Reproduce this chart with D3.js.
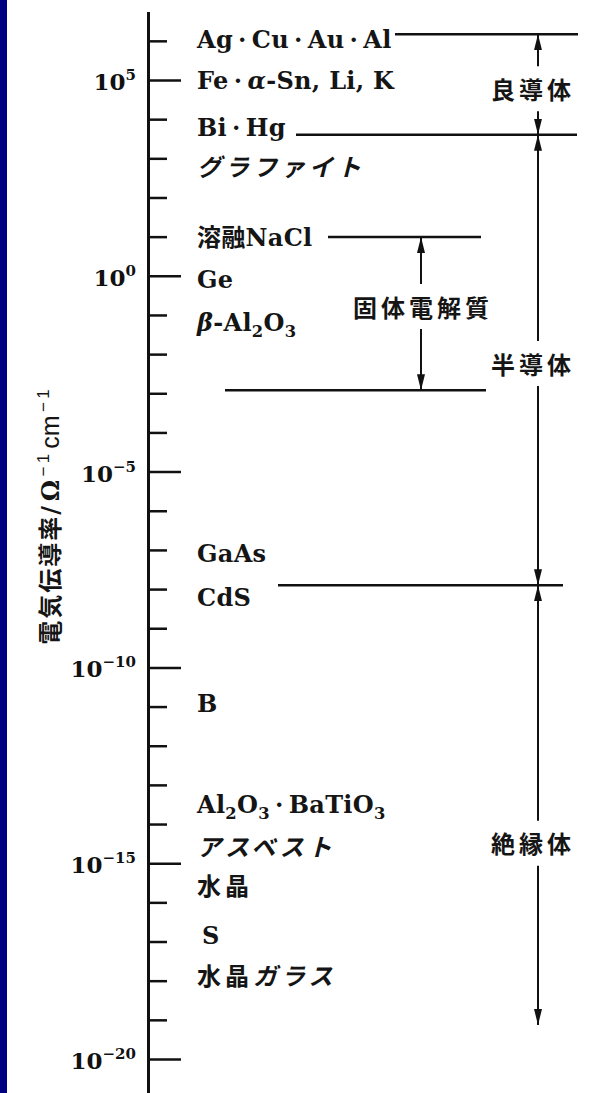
<!DOCTYPE html>
<html>
<head>
<meta charset="utf-8">
<script src="https://cdn.jsdelivr.net/npm/d3@7"></script>
<style>
body { margin: 0; background: #fff; }
svg { display: block; }
</style>
</head>
<body>
<svg id="chart" width="590" height="1093"></svg>
<script>
// materials and log10 of their conductivity (ohm^-1 cm^-1)
// {..} = italic, _n = subscript
var materials = ["Ag·Cu·Au·Al", "Fe·{α}-Sn, Li, K", "Bi·Hg", "{グラファイト}", "溶融NaCl", "Ge",
                 "{β}-Al_2O_3", "GaAs", "CdS", "B", "Al_2O_3·BaTiO_3", "{アスベスト}", "水晶", "S", "水晶{ガラス}"];
var materialLog = [6.05, 5.0, 3.78, 2.78, 0.97, -0.1, -1.18, -7.08, -8.2, -10.93, -13.49, -14.59, -15.6, -16.83, -17.9];

// classes of conductors: range and label position (log10)
var regions = ["良導体", "固体電解質", "半導体", "絶縁体"];
var regionTop = [6.17, 0.99, 3.6, -7.9];
var regionBottom = [3.6, -2.92, -7.9, -19.13];
var regionLabelLog = [4.74, -0.82, -2.28, -14.53];
var regionColumn = ["outer", "inner", "outer", "outer"];

// boundary lines between classes
var boundaryLog = [6.17, 3.6, 0.99, -2.92, -7.9];

// axis ticks
var tickExp = d3.range(6, -21, -1);
var labelExp = [5, 0, -5, -10, -15, -20];
var axisTitle = "電気伝導率";

var svg = d3.select("#chart");
var serif = "'DejaVu Serif', 'Noto Sans CJK JP', serif";
var jp = "'Noto Sans CJK JP', sans-serif";

// blue frame strip on the left
svg.append("rect").attr("x", 0).attr("y", 0).attr("width", 7).attr("height", 1093).attr("fill", "#000080");

var y = d3.scaleLog().domain([1e5, 1e-20]).range([80, 1059]);
function yl(e) { return y(Math.pow(10, e)); }

var axisX = 148;
var yAxisScale = y.copy().domain([Math.pow(10, 6.75), Math.pow(10, -21)]).range([yl(6.75), yl(-21)]);

var gAxis = svg.append("g").attr("transform", "translate(" + axisX + ",0)")
    .call(d3.axisRight(yAxisScale)
          .tickValues(tickExp.map(function(e) { return Math.pow(10, e); }))
          .tickSize(19).tickSizeOuter(0).tickFormat(""));
gAxis.select(".domain").attr("stroke", "#111").attr("stroke-width", 3);
gAxis.selectAll(".tick line").attr("stroke", "#111").attr("stroke-width", 2.5)
    .attr("x2", function(d) { return labelExp.indexOf(Math.round(Math.log10(d))) >= 0 ? 33 : 19; });

// tick labels 10^n
labelExp.forEach(function(e) {
    var t = svg.append("text").attr("x", 136).attr("y", yl(e) + 10)
        .attr("text-anchor", "end").attr("font-family", serif).attr("font-weight", "bold")
        .attr("font-size", 23).attr("fill", "#111");
    t.append("tspan").text("10");
    t.append("tspan").attr("dy", -10).attr("font-size", 15).text(e < 0 ? "\u2212" + (-e) : e);
});

// rich text helper
function rich(t, str) {
    var re = /\{([^}]*)\}|_(\d)|([^{_]+)/g, m, shift = 0;
    while ((m = re.exec(str)) !== null) {
        var target = m[2] ? 6 : 0;
        var sp = t.append("tspan");
        if (target !== shift) { sp.attr("dy", target - shift); shift = target; }
        if (m[1] !== undefined) sp.attr("font-style", "italic").text(m[1]);
        else if (m[2]) sp.attr("font-size", "68%").text(m[2]);
        else sp.text(m[3].replace(/·/g, "\u2009·\u2009"));
    }
}

var latin = /[A-Za-z]/;
var labelX = 197;
svg.append("g").selectAll("text").data(materials).join("text")
    .attr("x", function(d) { return d === "S" ? labelX + 5 : labelX; })
    .attr("y", function(d, i) { return yl(materialLog[i]); })
    .attr("dy", "0.36em")
    .attr("font-family", serif).attr("font-weight", "bold").attr("font-size", 24)
    .attr("letter-spacing", function(d) { return latin.test(d) ? 0.3 : 4; })
    .attr("fill", "#151515")
    .each(function(d) { rich(d3.select(this), d); });

// boundary lines (x extents are layout)
var lineX0 = [395, 296, 328, 225, 278];
var lineX1 = [578, 577, 481, 486, 563];
svg.append("g").selectAll("line").data(boundaryLog).join("line")
    .attr("x1", function(d, i) { return lineX0[i]; })
    .attr("x2", function(d, i) { return lineX1[i]; })
    .attr("y1", function(d) { return yl(d); })
    .attr("y2", function(d) { return yl(d); })
    .attr("stroke", "#111").attr("stroke-width", 2.5);

// arrowheads
svg.append("defs").append("marker").attr("id", "ah")
    .attr("viewBox", "0 -5 16 10").attr("refX", 16).attr("refY", 0)
    .attr("markerWidth", 16).attr("markerHeight", 10)
    .attr("markerUnits", "userSpaceOnUse").attr("orient", "auto-start-reverse")
    .append("path").attr("d", "M0,-4L16,0L0,4Z").attr("fill", "#111");

var colX = { outer: 538, inner: 421 };
var colLabelX = { outer: 531, inner: 421 };
var gReg = svg.append("g");
regions.forEach(function(name, i) {
    var x = colX[regionColumn[i]];
    var ly = yl(regionLabelLog[i]);
    gReg.append("line").attr("x1", x).attr("x2", x)
        .attr("y1", yl(regionTop[i])).attr("y2", ly - 24)
        .attr("stroke", "#111").attr("stroke-width", 2).attr("marker-start", "url(#ah)");
    gReg.append("line").attr("x1", x).attr("x2", x)
        .attr("y1", ly + 21).attr("y2", yl(regionBottom[i]))
        .attr("stroke", "#111").attr("stroke-width", 2).attr("marker-end", "url(#ah)");
    gReg.append("text").attr("x", colLabelX[regionColumn[i]] + 2).attr("y", ly).attr("dy", "0.36em")
        .attr("text-anchor", "middle").attr("font-family", jp).attr("font-weight", "bold")
        .attr("font-size", 24).attr("letter-spacing", 4).attr("fill", "#151515").text(name);
});

// axis title
var title = svg.append("text")
    .attr("transform", "translate(59,517) rotate(-90)")
    .attr("text-anchor", "middle").attr("font-family", jp).attr("font-weight", "bold")
    .attr("font-size", 24).attr("fill", "#151515");
title.append("tspan").attr("letter-spacing", 2).text(axisTitle);
title.append("tspan").attr("font-family", serif).text("/\u2009Ω");
title.append("tspan").attr("dy", -10).attr("font-size", 17).attr("font-family", "'Liberation Sans', sans-serif").attr("font-weight", "normal").text("\u2009\u2212\u20091");
title.append("tspan").attr("dy", 10).attr("font-size", 25).attr("font-family", "'Liberation Sans', sans-serif").attr("font-weight", "normal").text("\u2009cm");
title.append("tspan").attr("dy", -10).attr("font-size", 17).attr("font-family", "'Liberation Sans', sans-serif").attr("font-weight", "normal").text("\u2009\u2212\u20091");
</script>
</body>
</html>
